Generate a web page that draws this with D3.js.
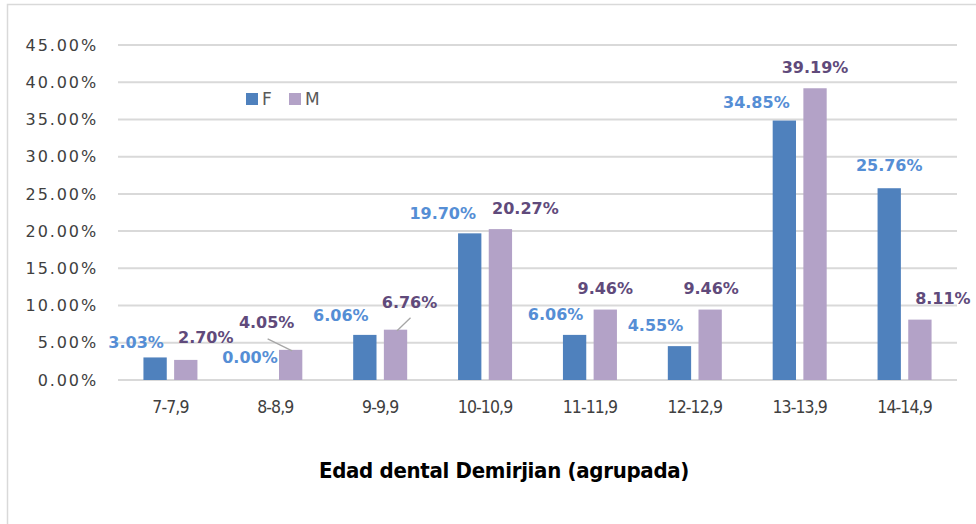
<!DOCTYPE html>
<html>
<head>
<meta charset="utf-8">
<script src="https://cdn.jsdelivr.net/npm/d3@7"></script>
<style>
  body { margin: 0; background: #fff; }
  svg { display: block; }
</style>
</head>
<body>
<script>
var categories = ["7-7,9", "8-8,9", "9-9,9", "10-10,9", "11-11,9", "12-12,9", "13-13,9", "14-14,9"];
var seriesF = [3.03, 0.0, 6.06, 19.7, 6.06, 4.55, 34.85, 25.76];
var seriesM = [2.7, 4.05, 6.76, 20.27, 9.46, 9.46, 39.19, 8.11];
var yTicks = [0, 5, 10, 15, 20, 25, 30, 35, 40, 45];

// manual label placement, offset from the top centre of each bar
var offF = [[-19, -15], [-10, -23], [-24, -20], [-27, -20], [-19, -21], [-24, -21], [-28, -18], [0, -23]];
var offM = [[20, -23], [-24, -28], [14, -27], [25, -21], [0, -21], [1, -21], [0, -21], [23, -21]];
// labels of M that get a leader line back to the bar: [index, start dy under label]
var leaders = [[1, 17], [2, 15]];

var width = 976, height = 524;

var svg = d3.select("body").append("svg").attr("width", width).attr("height", height);

// chart frame (cropped)
svg.append("path")
  .attr("d", "M7.5,524V4.5H976")
  .attr("fill", "none")
  .attr("stroke", "#d9d9d9")
  .attr("stroke-width", 1.5);

var x0 = d3.scaleBand().domain(categories).range([118, 957]);
var y = d3.scaleLinear().domain([0, 45]).range([380, 45]);

function barBand(i) {
  var c = x0(categories[i]) + x0.bandwidth() / 2;
  return d3.scaleBand().domain(["F", "M"]).range([c - 27, c + 27]).paddingInner(0.24);
}

// gridlines
svg.append("g")
  .selectAll("line")
  .data(yTicks)
  .enter()
  .append("line")
  .attr("x1", 118)
  .attr("x2", 957)
  .attr("y1", (d) => y(d))
  .attr("y2", (d) => y(d))
  .attr("stroke", "#d9d9d9")
  .attr("stroke-width", 2);

// y axis labels
var yAxis = svg.append("g")
  .attr("transform", "translate(98,0)")
  .call(d3.axisLeft(y).tickValues(yTicks).tickSize(0).tickPadding(0).tickFormat((d) => d.toFixed(2) + "%"));
yAxis.select(".domain").remove();
yAxis.selectAll("text")
  .attr("font-family", "DejaVu Sans, sans-serif")
  .attr("font-size", 16)
  .attr("letter-spacing", 1.9)
  .attr("fill", "#404040");

// x axis labels
var xAxis = svg.append("g")
  .attr("transform", "translate(0,380)")
  .call(d3.axisBottom(x0).tickSize(0).tickPadding(21));
xAxis.select(".domain").remove();
xAxis.selectAll("text")
  .attr("font-family", "DejaVu Sans Condensed, sans-serif")
  .attr("font-size", 17.5)
  .attr("letter-spacing", -0.9)
  .attr("fill", "#404040");

var series = [
  { key: "F", values: seriesF, color: "#4f81bd", label: "#558ed5", off: offF },
  { key: "M", values: seriesM, color: "#b3a2c7", label: "#604a7b", off: offM }
];

// bars
series.forEach((s) => {
  svg.append("g")
    .selectAll("rect")
    .data(s.values)
    .enter()
    .append("rect")
    .attr("x", (d, i) => barBand(i)(s.key))
    .attr("width", (d, i) => barBand(i).bandwidth())
    .attr("y", (d) => y(d))
    .attr("height", (d) => y(0) - y(d))
    .attr("fill", s.color);
});

// leader lines
svg.append("g")
  .selectAll("line")
  .data(leaders)
  .enter()
  .append("line")
  .attr("x1", (p) => {
    var b = barBand(p[0]);
    return b("M") + b.bandwidth() / 2 + offM[p[0]][0] + 1;
  })
  .attr("y1", (p) => y(seriesM[p[0]]) + offM[p[0]][1] + p[1])
  .attr("x2", (p) => {
    var b = barBand(p[0]);
    return b("M") + b.bandwidth() / 2 + 1.5;
  })
  .attr("y2", (p) => y(seriesM[p[0]]) + 1)
  .attr("stroke", "#a6a6a6")
  .attr("stroke-width", 1.3);

// data labels
series.forEach((s) => {
  svg.append("g")
    .selectAll("text")
    .data(s.values)
    .enter()
    .append("text")
    .attr("x", (d, i) => barBand(i)(s.key) + barBand(i).bandwidth() / 2 + s.off[i][0])
    .attr("y", (d, i) => y(d) + s.off[i][1])
    .attr("dy", "0.36em")
    .attr("text-anchor", "middle")
    .attr("font-family", "DejaVu Sans, sans-serif")
    .attr("font-weight", "bold")
    .attr("font-size", 16)
    .attr("fill", s.label)
    .text((d) => d.toFixed(2) + "%");
});

// legend
var legend = svg.append("g").attr("transform", "translate(246,99)");
var legItems = legend.selectAll("g")
  .data(series)
  .enter()
  .append("g")
  .attr("transform", (d, i) => "translate(" + i * 43 + ",0)");
legItems.append("rect")
  .attr("x", 0)
  .attr("y", -6)
  .attr("width", 12)
  .attr("height", 12)
  .attr("fill", (d) => d.color);
legItems.append("text")
  .attr("x", 16)
  .attr("dy", "0.36em")
  .attr("font-family", "DejaVu Sans, sans-serif")
  .attr("font-size", 17)
  .attr("fill", "#595959")
  .text((d) => d.key);

// axis title
svg.append("text")
  .attr("x", 504)
  .attr("y", 470)
  .attr("dy", "0.36em")
  .attr("text-anchor", "middle")
  .attr("font-family", "DejaVu Sans Condensed, sans-serif")
  .attr("font-weight", "bold")
  .attr("font-size", 22)
  .attr("letter-spacing", -0.3)
  .attr("fill", "#000")
  .text("Edad dental Demirjian (agrupada)");
</script>
</body>
</html>
